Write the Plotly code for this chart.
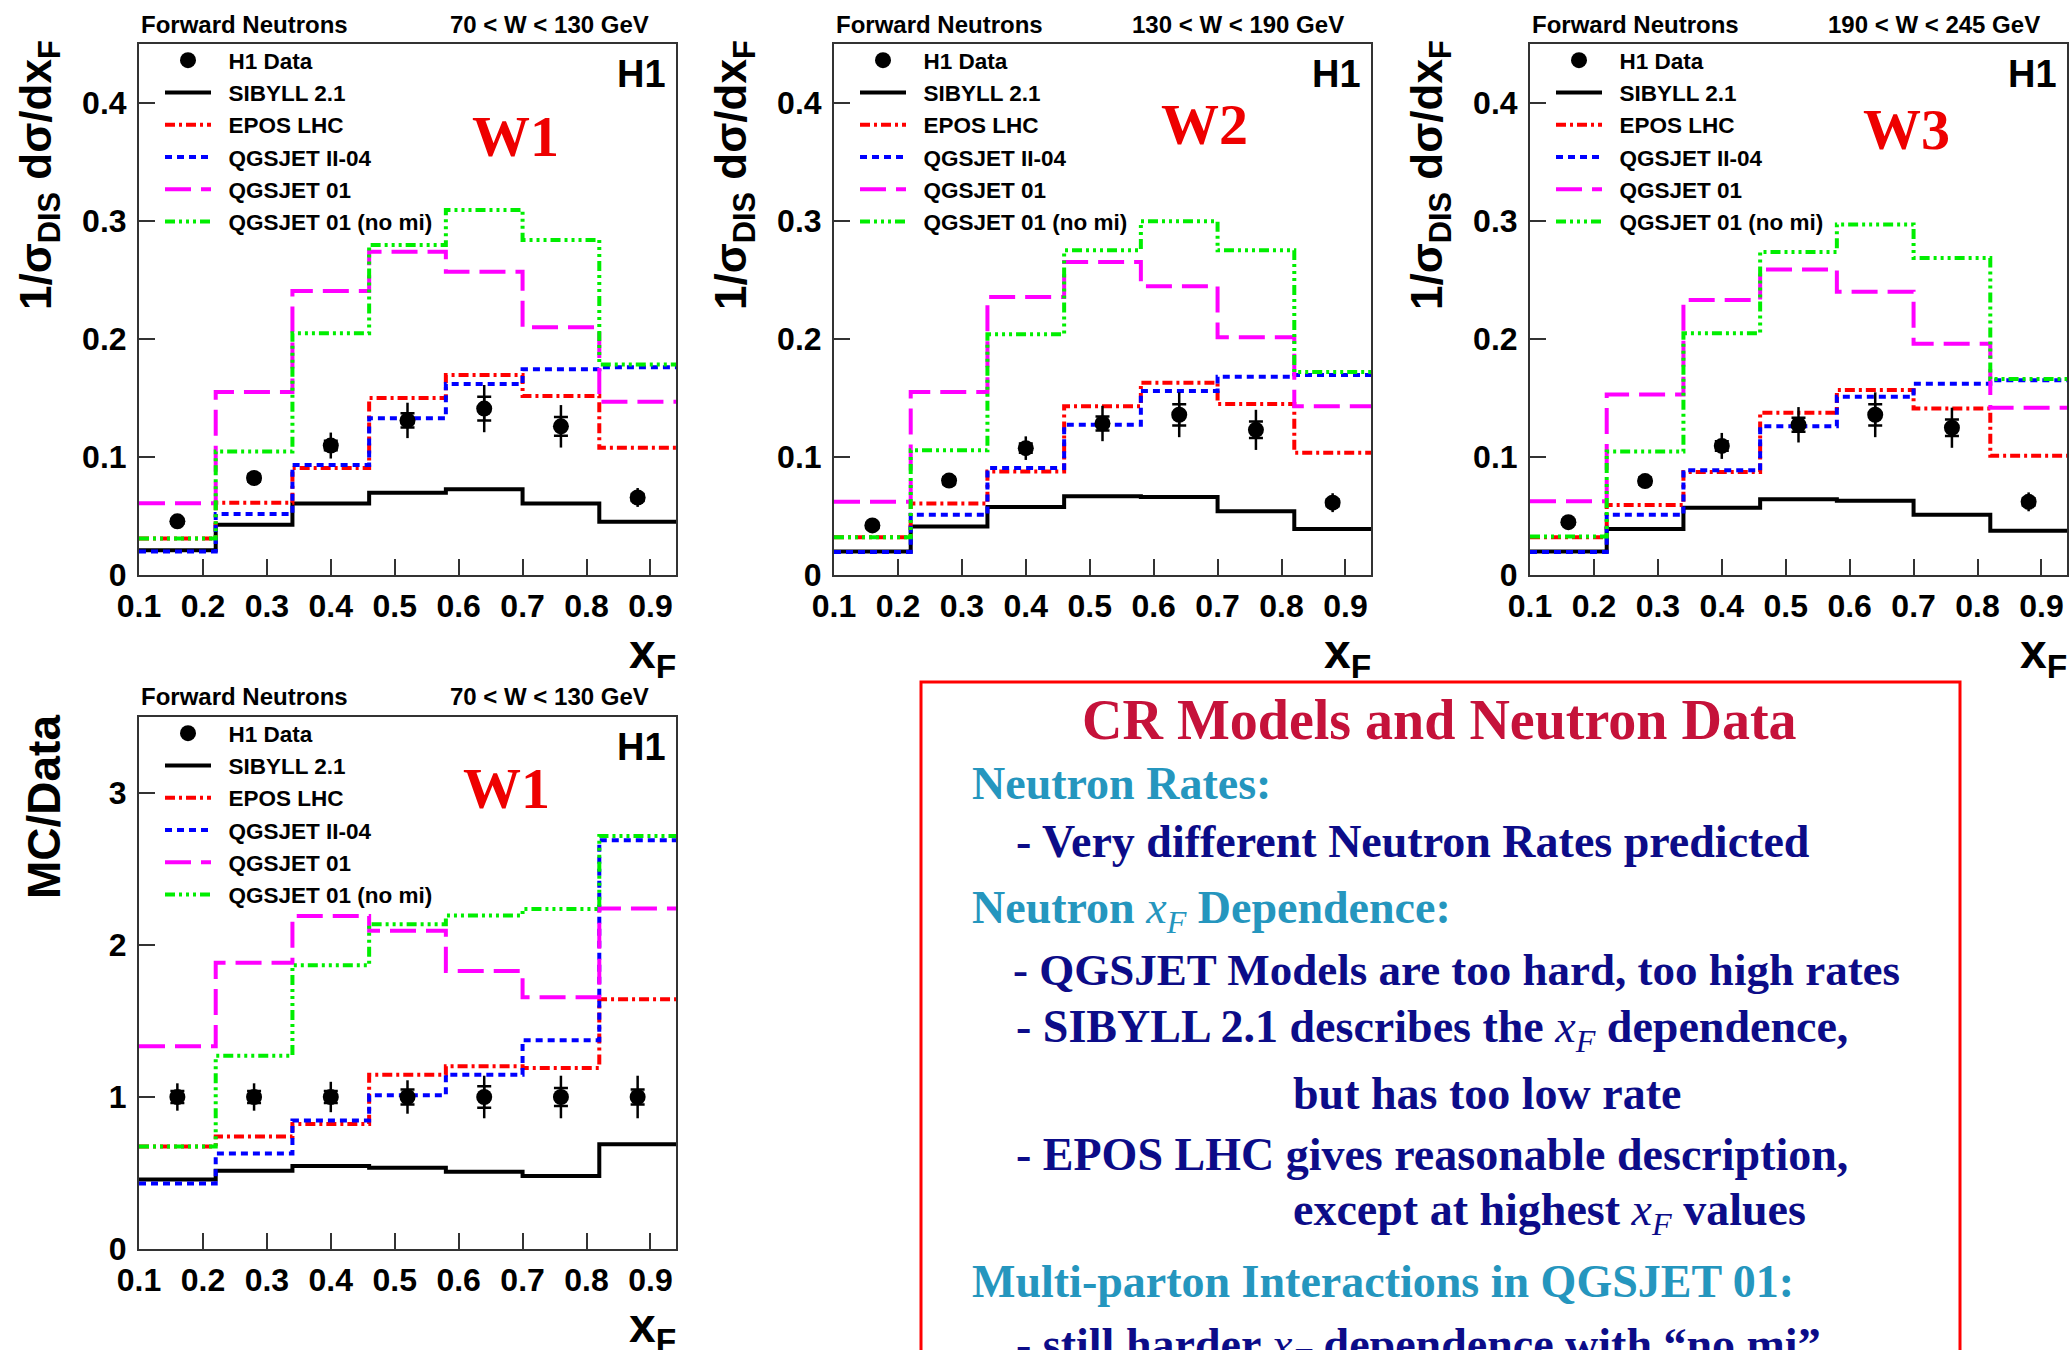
import plotly.graph_objects as go

W, H = 2070, 1350

# ---------------- data ----------------
edges = [0.10, 0.22, 0.34, 0.46, 0.58, 0.70, 0.82, 0.94]
xf_centres = [0.16, 0.28, 0.40, 0.52, 0.64, 0.76, 0.88]

# 70 < W < 130 GeV
w1_data = [0.0455, 0.0822, 0.1097, 0.131, 0.141, 0.126, 0.0657]
w1_err_tot = [0.005, 0.006, 0.011, 0.015, 0.020, 0.018, 0.008]
w1_err_stat = [0.002, 0.003, 0.004, 0.006, 0.010, 0.008, 0.003]
w1_sibyll = [0.021, 0.0426, 0.0606, 0.0697, 0.0727, 0.0606, 0.0451]
w1_epos = [0.031, 0.0613, 0.0906, 0.150, 0.1695, 0.1516, 0.1079]
w1_qgsii = [0.020, 0.0517, 0.0932, 0.1328, 0.1618, 0.1743, 0.176]
w1_qgs01 = [0.0609, 0.155, 0.2407, 0.274, 0.257, 0.210, 0.1468]
w1_nomi = [0.031, 0.1046, 0.2048, 0.2796, 0.3094, 0.284, 0.1783]

# 130 < W < 190 GeV
w2_data = [0.042, 0.080, 0.1075, 0.1284, 0.1358, 0.123, 0.0613]
w2_err_tot = [0.005, 0.006, 0.010, 0.015, 0.019, 0.017, 0.008]
w2_err_stat = [0.002, 0.003, 0.004, 0.006, 0.009, 0.007, 0.003]
w2_sibyll = [0.020, 0.041, 0.0576, 0.0668, 0.066, 0.054, 0.039]
w2_epos = [0.032, 0.0605, 0.0877, 0.143, 0.163, 0.145, 0.1035]
w2_qgsii = [0.0195, 0.051, 0.0906, 0.1273, 0.156, 0.168, 0.1695]
w2_qgs01 = [0.062, 0.155, 0.2356, 0.2653, 0.2448, 0.2015, 0.143]
w2_nomi = [0.032, 0.1057, 0.204, 0.2752, 0.2998, 0.2752, 0.172]

# 190 < W < 245 GeV
w3_data = [0.0448, 0.0796, 0.1094, 0.1273, 0.1358, 0.1248, 0.062]
w3_err_tot = [0.005, 0.006, 0.011, 0.015, 0.019, 0.017, 0.008]
w3_err_stat = [0.002, 0.003, 0.004, 0.006, 0.009, 0.007, 0.003]
w3_sibyll = [0.020, 0.039, 0.0569, 0.0642, 0.063, 0.051, 0.0374]
w3_epos = [0.032, 0.0594, 0.0873, 0.1376, 0.1567, 0.141, 0.101]
w3_qgsii = [0.0195, 0.051, 0.0888, 0.126, 0.151, 0.162, 0.165]
w3_qgs01 = [0.0624, 0.153, 0.233, 0.259, 0.240, 0.196, 0.1417]
w3_nomi = [0.0327, 0.1046, 0.2048, 0.2738, 0.297, 0.2686, 0.166]

# MC / Data, 70 < W < 130 GeV
r1_data = [1.0, 1.0, 1.0, 1.0, 1.0, 1.0, 1.0]
r1_err_tot = [0.09, 0.09, 0.10, 0.11, 0.14, 0.14, 0.14]
r1_err_stat = [0.04, 0.04, 0.04, 0.05, 0.07, 0.06, 0.05]
r1_sibyll = [0.457, 0.514, 0.546, 0.534, 0.509, 0.48, 0.689]
r1_epos = [0.674, 0.74, 0.823, 1.146, 1.203, 1.191, 1.643]
r1_qgsii = [0.431, 0.629, 0.846, 1.011, 1.146, 1.374, 2.689]
r1_qgs01 = [1.334, 1.883, 2.191, 2.094, 1.829, 1.657, 2.24]
r1_nomi = [0.674, 1.271, 1.866, 2.137, 2.194, 2.237, 2.717]

model_names = ["SIBYLL 2.1", "EPOS LHC", "QGSJET II-04", "QGSJET 01", "QGSJET 01 (no mi)"]
model_colors = ["#000000", "#ff0000", "#0000ff", "#ff00ff", "#00ee00"]
model_dash = ["solid", "10px,4px,3px,4px", "7px,5px", "26px,10px",
              "10px,4px,3px,4px,3px,4px,3px,4px"]

w_labels = ["70 < W < 130 GeV", "130 < W < 190 GeV", "190 < W < 245 GeV", "70 < W < 130 GeV"]
w_tags = ["W1", "W2", "W3", "W1"]

panels = [
    dict(data=w1_data, tot=w1_err_tot, stat=w1_err_stat,
         models=[w1_sibyll, w1_epos, w1_qgsii, w1_qgs01, w1_nomi]),
    dict(data=w2_data, tot=w2_err_tot, stat=w2_err_stat,
         models=[w2_sibyll, w2_epos, w2_qgsii, w2_qgs01, w2_nomi]),
    dict(data=w3_data, tot=w3_err_tot, stat=w3_err_stat,
         models=[w3_sibyll, w3_epos, w3_qgsii, w3_qgs01, w3_nomi]),
    dict(data=r1_data, tot=r1_err_tot, stat=r1_err_stat,
         models=[r1_sibyll, r1_epos, r1_qgsii, r1_qgs01, r1_nomi]),
]

# ---------------- layout geometry (pixels) ----------------
px_left = [139, 834, 1530, 139]
px_width = 537
px_top = [44, 44, 44, 717]
px_bottom = [575, 575, 575, 1249]
y_ranges = [[0, 0.45], [0, 0.45], [0, 0.45], [0, 3.5]]
y_titles = ["1/σ<sub>DIS</sub> dσ/dx<sub>F</sub>"] * 3 + ["MC/Data"]


def fx(p):
    return p / W


def fy(p):
    return 1 - p / H


SANS = "Liberation Sans"
SERIF = "Liberation Serif"
NB = "\u00a0\u00a0"  # small gap between legend sample and label

fig = go.Figure()
annotations = []
shapes = []


def note(text, x, y, xanchor, yanchor, font, **kw):
    annotations.append(dict(text=text, x=fx(x), y=fy(y), xref="paper", yref="paper",
                            xanchor=xanchor, yanchor=yanchor, showarrow=False,
                            font=font, **kw))


for i, pan in enumerate(panels):
    n = "" if i == 0 else str(i + 1)
    xa, ya = "x" + n, "y" + n
    leg = "legend" + n

    for k, name in enumerate(model_names):
        vals = pan["models"][k]
        fig.add_trace(go.Scatter(
            x=edges, y=vals + [vals[-1]], mode="lines", line_shape="hv",
            line=dict(color=model_colors[k], width=4, dash=model_dash[k]),
            name=NB + name, xaxis=xa, yaxis=ya, legend=leg, legendrank=k + 2,
        ))

    # data: total uncertainty (plain bar) and statistical part (with cross-bars)
    fig.add_trace(go.Scatter(
        x=xf_centres, y=pan["data"], mode="markers",
        marker=dict(color="black", size=16, symbol="circle"),
        error_y=dict(type="data", array=pan["tot"], color="black", thickness=2.5, width=0),
        name=NB + "H1 Data", xaxis=xa, yaxis=ya, legend=leg, legendrank=1,
    ))
    fig.add_trace(go.Scatter(
        x=xf_centres, y=pan["data"], mode="markers",
        marker=dict(color="black", size=1, opacity=0),
        error_y=dict(type="data", array=pan["stat"], color="black", thickness=2.5, width=7),
        showlegend=False, xaxis=xa, yaxis=ya, legend=leg, hoverinfo="skip",
    ))

    axis_base = dict(
        showgrid=False, zeroline=False, showline=True, linecolor="#333333",
        linewidth=2, mirror=True, ticks="inside", ticklen=16, tickwidth=1.5,
        tickcolor="#333333", automargin=False,
        tickfont=dict(family=SANS, size=32, color="black", weight="bold"),
    )
    fig.layout["xaxis" + n] = dict(
        axis_base, domain=[fx(px_left[i]), fx(px_left[i] + px_width)],
        range=[0.1, 0.94], tick0=0.1, dtick=0.1, tickformat=".1f",
        anchor=ya, ticklabelstandoff=2,
    )
    fig.layout["yaxis" + n] = dict(
        axis_base, domain=[fy(px_bottom[i]), fy(px_top[i])],
        range=y_ranges[i], dtick=(0.1 if i < 3 else 1), anchor=xa,
        ticklabelstandoff=4,
    )

    fig.layout[leg] = dict(
        x=fx(px_left[i] + 21), y=fy(px_top[i] - 5), xanchor="left", yanchor="top",
        bgcolor="rgba(0,0,0,0)", borderwidth=0, itemwidth=46, traceorder="normal",
        font=dict(family=SANS, size=22.5, color="black", weight="bold"),
    )

    hdr_font = dict(family=SANS, size=24, color="black", weight="bold")
    # header line above the frame
    note("Forward Neutrons", px_left[i], px_top[i] - 20, "left", "middle", hdr_font)
    note(w_labels[i], px_left[i] + px_width - 25, px_top[i] - 20, "right", "middle", hdr_font)
    # experiment tag
    note("H1", px_left[i] + px_width - 8, px_top[i] + 30, "right", "middle",
         dict(family=SANS, size=38, color="black", weight="bold"))
    # x axis title
    note("x<sub>F</sub>", px_left[i] + px_width + 2, px_bottom[i] + 80, "right", "middle",
         dict(family=SANS, size=48, color="black", weight="bold"))
    # y axis title
    if i < 3:
        note(y_titles[i], px_left[i] - 100, px_top[i] - 6, "center", "top",
             dict(family=SANS, size=44, color="black", weight="bold"), textangle=-90)
    else:
        note(y_titles[i], px_left[i] - 95, px_top[i] + 90, "center", "middle",
             dict(family=SANS, size=46, color="black", weight="bold"), textangle=-90)

# red bin tags
tag_pos = [(515, 136), (1204, 125), (1906, 129), (506, 788)]
for tag, (tx, ty) in zip(w_tags, tag_pos):
    note(tag, tx, ty, "center", "middle",
         dict(family=SERIF, size=58, color="#ee0000", weight="bold"))

# ---------------- summary box ----------------
TITLE_C = "#c5123a"
HEAD_C = "#2596be"
BODY_C = "#0c0c88"
XF = "<i>x</i><sub><i>F</i></sub>"

box_lines = [
    ("<b>CR Models and Neutron Data</b>", 1439, 720, "center", TITLE_C, 56),
    ("<b>Neutron Rates:</b>", 970, 783, "left", HEAD_C, 46),
    ("<b>- Very different Neutron Rates predicted</b>", 1014, 842, "left", BODY_C, 46),
    ("<b>Neutron </b>" + XF + "<b> Dependence:</b>", 970, 911, "left", HEAD_C, 46),
    ("<b>- QGSJET Models are too hard, too high rates</b>", 1011, 970, "left", BODY_C, 45),
    ("<b>- SIBYLL 2.1 describes the </b>" + XF + "<b> dependence,</b>", 1014, 1030, "left", BODY_C, 46),
    ("<b>but has too low rate</b>", 1291, 1093, "left", BODY_C, 46),
    ("<b>- EPOS LHC gives reasonable description,</b>", 1014, 1154, "left", BODY_C, 46),
    ("<b>except at highest </b>" + XF + "<b> values</b>", 1291, 1213, "left", BODY_C, 46),
    ("<b>Multi-parton Interactions in QGSJET 01:</b>", 970, 1281, "left", HEAD_C, 46),
    ("<b>- still harder </b>" + XF + "<b> dependence with “no mi”</b>", 1014, 1348, "left", BODY_C, 46),
]
for txt, tx, ty, anchor, col, sz in box_lines:
    note(txt, tx, ty, anchor, "middle", dict(family=SERIF, size=sz, color=col))

shapes.append(dict(
    type="rect", xref="paper", yref="paper",
    x0=fx(921), x1=fx(1960), y0=fy(1400), y1=fy(682),
    line=dict(color="#ff0000", width=3), fillcolor="rgba(0,0,0,0)"))

fig.update_layout(
    width=W, height=H, margin=dict(l=0, r=0, t=0, b=0, autoexpand=False),
    paper_bgcolor="white", plot_bgcolor="white",
    annotations=annotations, shapes=shapes,
)

fig.write_html("out.html")
